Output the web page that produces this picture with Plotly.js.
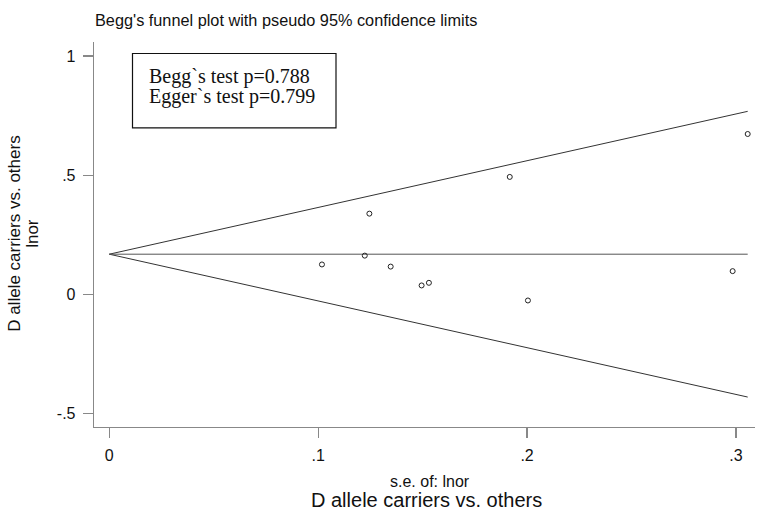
<!DOCTYPE html>
<html>
<head>
<meta charset="utf-8">
<script src="https://cdn.plot.ly/plotly-3.0.1.min.js"></script>
<style>html,body{margin:0;padding:0;background:#fff}#chart{width:757px;height:513px}</style>
</head>
<body>
<div id="chart"></div>
<script>
// Study data: standard error of ln(OR) and ln(OR)
const seLnor = [0.1018, 0.1223, 0.1245, 0.1347, 0.1495, 0.1530, 0.1917, 0.2004, 0.2984, 0.3056];
const lnor   = [0.126, 0.163, 0.339, 0.117, 0.038, 0.049, 0.493, -0.025, 0.098, 0.673];
const pooled = 0.169;
const z95 = 1.96;
const yTickVals = [-0.5, 0, 0.5, 1];
const yTickText = ['-.5', '0', '.5', '1'];
const xTickVals = [0, 0.1, 0.2, 0.3];
const xTickText = ['0', '.1', '.2', '.3'];
const titleText = "Begg's funnel plot with pseudo 95% confidence limits";
const boxLines = ['Begg`s test p=0.788', 'Egger`s test p=0.799'];

const seMax = Math.max(...seLnor);
const lineX = [0, seMax];

const W = 757, H = 513;
const L = 94, R = 755, T = 42, B = 427.3;
const px = x => (x - L) / (R - L);
const py = y => (B - y) / (B - T);

const traces = [
  {x: [0, seMax], y: [pooled, pooled + z95 * seMax], mode: 'lines', line: {color: '#333', width: 1}, hoverinfo: 'skip'},
  {x: [0, seMax], y: [pooled, pooled - z95 * seMax], mode: 'lines', line: {color: '#333', width: 1}, hoverinfo: 'skip'},
  {x: lineX, y: [pooled, pooled], mode: 'lines', line: {color: '#555', width: 1}, hoverinfo: 'skip'},
  {x: seLnor, y: lnor, mode: 'markers', marker: {symbol: 'circle-open', size: 5, color: '#222', line: {width: 1, color: '#222'}}}
];

const font = {family: 'Liberation Sans, Arial, sans-serif', color: '#111'};

const layout = {
  width: W, height: H,
  margin: {l: L, r: W - R, t: T, b: H - B},
  paper_bgcolor: '#fff', plot_bgcolor: '#fff',
  showlegend: false,
  font: font,
  title: {text: titleText, font: {family: font.family, size: 16.3, color: '#111'},
          x: 95 / W, xanchor: 'left', xref: 'container', y: 1 - 20 / H, yanchor: 'middle', yref: 'container'},
  xaxis: {
    range: [-0.00732, 0.3091], showgrid: false, zeroline: false,
    showline: true, linecolor: '#888', linewidth: 1.3,
    ticks: 'outside', ticklen: 10, tickcolor: '#888', tickwidth: 1.2,
    tickvals: xTickVals, ticktext: xTickText, ticklabelstandoff: 3,
    tickfont: {family: font.family, size: 16, color: '#111'}
  },
  yaxis: {
    range: [-0.5555, 1.0587], showgrid: false, zeroline: false,
    showline: true, linecolor: '#888', linewidth: 1.3,
    ticks: 'outside', ticklen: 10, tickcolor: '#888', tickwidth: 1.2,
    tickvals: yTickVals, ticktext: yTickText, ticklabelstandoff: 4,
    tickfont: {family: font.family, size: 16, color: '#111'}
  },
  shapes: [
    {type: 'rect', xref: 'paper', yref: 'paper', x0: px(132.5), x1: px(336), y0: py(128), y1: py(53.5),
     line: {color: '#111', width: 1.2}, fillcolor: 'rgba(0,0,0,0)'}
  ],
  annotations: [
    {text: boxLines[0], xref: 'paper', yref: 'paper', x: px(147), y: py(76.5), xanchor: 'left', yanchor: 'middle', showarrow: false,
     font: {family: 'Liberation Serif, Times New Roman, serif', size: 20, color: '#111'}},
    {text: boxLines[1], xref: 'paper', yref: 'paper', x: px(147), y: py(97), xanchor: 'left', yanchor: 'middle', showarrow: false,
     font: {family: 'Liberation Serif, Times New Roman, serif', size: 20, color: '#111'}},
    {text: 's.e. of: lnor', xref: 'paper', yref: 'paper', x: px(430), y: py(482), xanchor: 'center', yanchor: 'middle', showarrow: false,
     font: {family: font.family, size: 16, color: '#111'}},
    {text: 'D allele carriers vs. others', xref: 'paper', yref: 'paper', x: px(426), y: py(513), xanchor: 'center', yanchor: 'bottom', showarrow: false,
     font: {family: font.family, size: 20, color: '#111'}},
    {text: 'D allele carriers vs. others', xref: 'paper', yref: 'paper', x: px(15), y: py(234), xanchor: 'center', yanchor: 'middle', showarrow: false, textangle: -90,
     font: {family: font.family, size: 17, color: '#111'}},
    {text: 'lnor', xref: 'paper', yref: 'paper', x: px(33), y: py(234), xanchor: 'center', yanchor: 'middle', showarrow: false, textangle: -90,
     font: {family: font.family, size: 17, color: '#111'}}
  ]
};

Plotly.newPlot('chart', traces, layout, {displayModeBar: false, staticPlot: true});
</script>
</body>
</html>
